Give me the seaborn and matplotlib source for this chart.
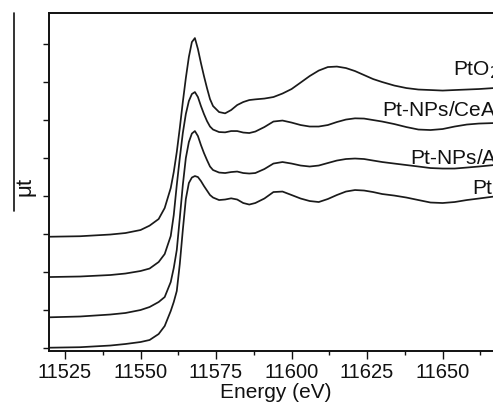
import pandas as pd
import matplotlib
matplotlib.use("Agg")
import matplotlib.pyplot as plt
from matplotlib.lines import Line2D
from matplotlib.ticker import MultipleLocator
import seaborn as sns

# Photon energy grid (eV) shared by all Pt L3-edge XANES spectra
energy = [11520, 11530, 11540, 11545, 11550, 11553, 11556, 11558, 11560, 11561,
          11562, 11563, 11564, 11565, 11566, 11567, 11568, 11569, 11570, 11571,
          11572, 11573, 11574, 11576, 11578, 11580, 11582, 11584, 11586, 11588,
          11591, 11594, 11597, 11600, 11603, 11606, 11609, 11612, 11615, 11618,
          11621, 11624, 11627, 11630, 11634, 11638, 11642, 11646, 11650, 11654,
          11658, 11662, 11667]

# Absorption (vertically offset), one list per sample
mu_pt = [0.016, 0.029, 0.073, 0.113, 0.165, 0.218, 0.375, 0.585, 0.979, 1.215,
         1.504, 2.213, 3.105, 3.919, 4.339, 4.483, 4.522, 4.496, 4.391, 4.260,
         4.142, 4.024, 3.958, 3.892, 3.906, 3.937, 3.906, 3.814, 3.774, 3.814,
         3.932, 4.102, 4.115, 4.024, 3.932, 3.866, 3.840, 3.919, 4.024, 4.115,
         4.155, 4.142, 4.102, 4.050, 4.010, 3.958, 3.892, 3.827, 3.814, 3.840,
         3.892, 3.932, 3.984]

mu_pt_al = [0.814, 0.835, 0.887, 0.927, 1.005, 1.084, 1.215, 1.346, 1.740, 2.108,
            2.580, 3.420, 4.286, 4.995, 5.415, 5.638, 5.703, 5.572, 5.336, 5.126,
            4.942, 4.772, 4.680, 4.614, 4.601, 4.627, 4.640, 4.601, 4.588, 4.601,
            4.706, 4.850, 4.890, 4.850, 4.798, 4.772, 4.798, 4.864, 4.929, 4.969,
            4.982, 4.969, 4.929, 4.890, 4.850, 4.811, 4.772, 4.732, 4.719, 4.719,
            4.745, 4.772, 4.811]

mu_pt_ceal = [1.871, 1.885, 1.924, 1.963, 2.029, 2.094, 2.265, 2.475, 2.948, 3.499,
              4.286, 4.995, 5.651, 6.150, 6.491, 6.675, 6.727, 6.596, 6.360, 6.150,
              5.966, 5.822, 5.743, 5.677, 5.669, 5.703, 5.703, 5.664, 5.651, 5.690,
              5.808, 5.953, 5.979, 5.926, 5.861, 5.822, 5.822, 5.861, 5.940, 6.005,
              6.037, 6.031, 5.992, 5.953, 5.887, 5.808, 5.743, 5.730, 5.756, 5.822,
              5.874, 5.900, 5.913]

mu_pto2 = [2.929, 2.942, 2.987, 3.026, 3.105, 3.220, 3.394, 3.683, 4.207, 4.627,
           5.152, 5.782, 6.465, 7.094, 7.646, 8.039, 8.144, 7.856, 7.488, 7.147,
           6.832, 6.543, 6.360, 6.202, 6.168, 6.255, 6.386, 6.465, 6.517, 6.535,
           6.556, 6.596, 6.688, 6.806, 6.976, 7.147, 7.291, 7.383, 7.396, 7.357,
           7.278, 7.173, 7.068, 6.990, 6.898, 6.832, 6.793, 6.780, 6.766, 6.780,
           6.793, 6.806, 6.832]

samples = ["Pt", "Pt-NPs/Al$_2$O$_3$", "Pt-NPs/CeAl$_2$O$_3$", "PtO$_2$"]
spectra = [mu_pt, mu_pt_al, mu_pt_ceal, mu_pto2]

# Label anchor points (eV, offset absorption)
label_x = [11659.8, 11639.2, 11630.0, 11653.5]
label_y = [4.05, 4.84, 6.08, 7.17]

df = pd.concat(
    [pd.DataFrame({"energy": energy, "mu": mu, "sample": name})
     for name, mu in zip(samples, spectra)],
    ignore_index=True,
)

sns.set_theme(style="ticks")
plt.rcParams["font.family"] = ["Liberation Sans", "DejaVu Sans"]

fig = plt.figure(figsize=(4.93, 4.11), dpi=100)
ax = fig.add_axes([0.100, 0.1467, 0.9203, 0.8224])

sns.lineplot(data=df, x="energy", y="mu", hue="sample", units="sample",
             estimator=None, sort=False, palette=["#1a1a1a"] * 4,
             linewidth=1.25, legend=False, ax=ax)

for name, x, y in zip(samples, label_x, label_y):
    ax.text(x, y, name, fontsize=15, color="#111111",
            ha="left", va="baseline", clip_on=False)

ax.set_xlim(11519.8, 11670)
ax.set_ylim(-0.063, 8.81)
ax.xaxis.set_major_locator(MultipleLocator(25))
ax.xaxis.set_minor_locator(MultipleLocator(12.5))
ax.yaxis.set_major_locator(MultipleLocator(1))
ax.set_yticklabels([])
ax.tick_params(axis="x", which="major", direction="out", length=5.5, width=1.0,
               labelsize=14.5, pad=3, colors="#111111")
ax.tick_params(axis="x", which="minor", direction="out", length=3, width=1.0,
               colors="#111111")
ax.tick_params(axis="y", which="major", direction="out", length=4.5, width=1.0,
               colors="#111111")

for side in ["left", "bottom", "top", "right"]:
    ax.spines[side].set_visible(True)
    ax.spines[side].set_linewidth(1.4)
    ax.spines[side].set_color("#111111")

ax.set_xlabel("Energy (eV)", fontsize=15, color="#111111", labelpad=1)
ax.set_ylabel("")

# y-axis quantity with its bar
fig.text(25 / 493, 1 - 186 / 411, "μt", rotation=90, fontsize=16,
         ha="center", va="center", color="#111111")
fig.add_artist(Line2D([14 / 493, 14 / 493], [1 - 13 / 411, 1 - 211 / 411],
                      transform=fig.transFigure, color="#111111", linewidth=1.2))

fig.savefig("out.png", dpi=100)
